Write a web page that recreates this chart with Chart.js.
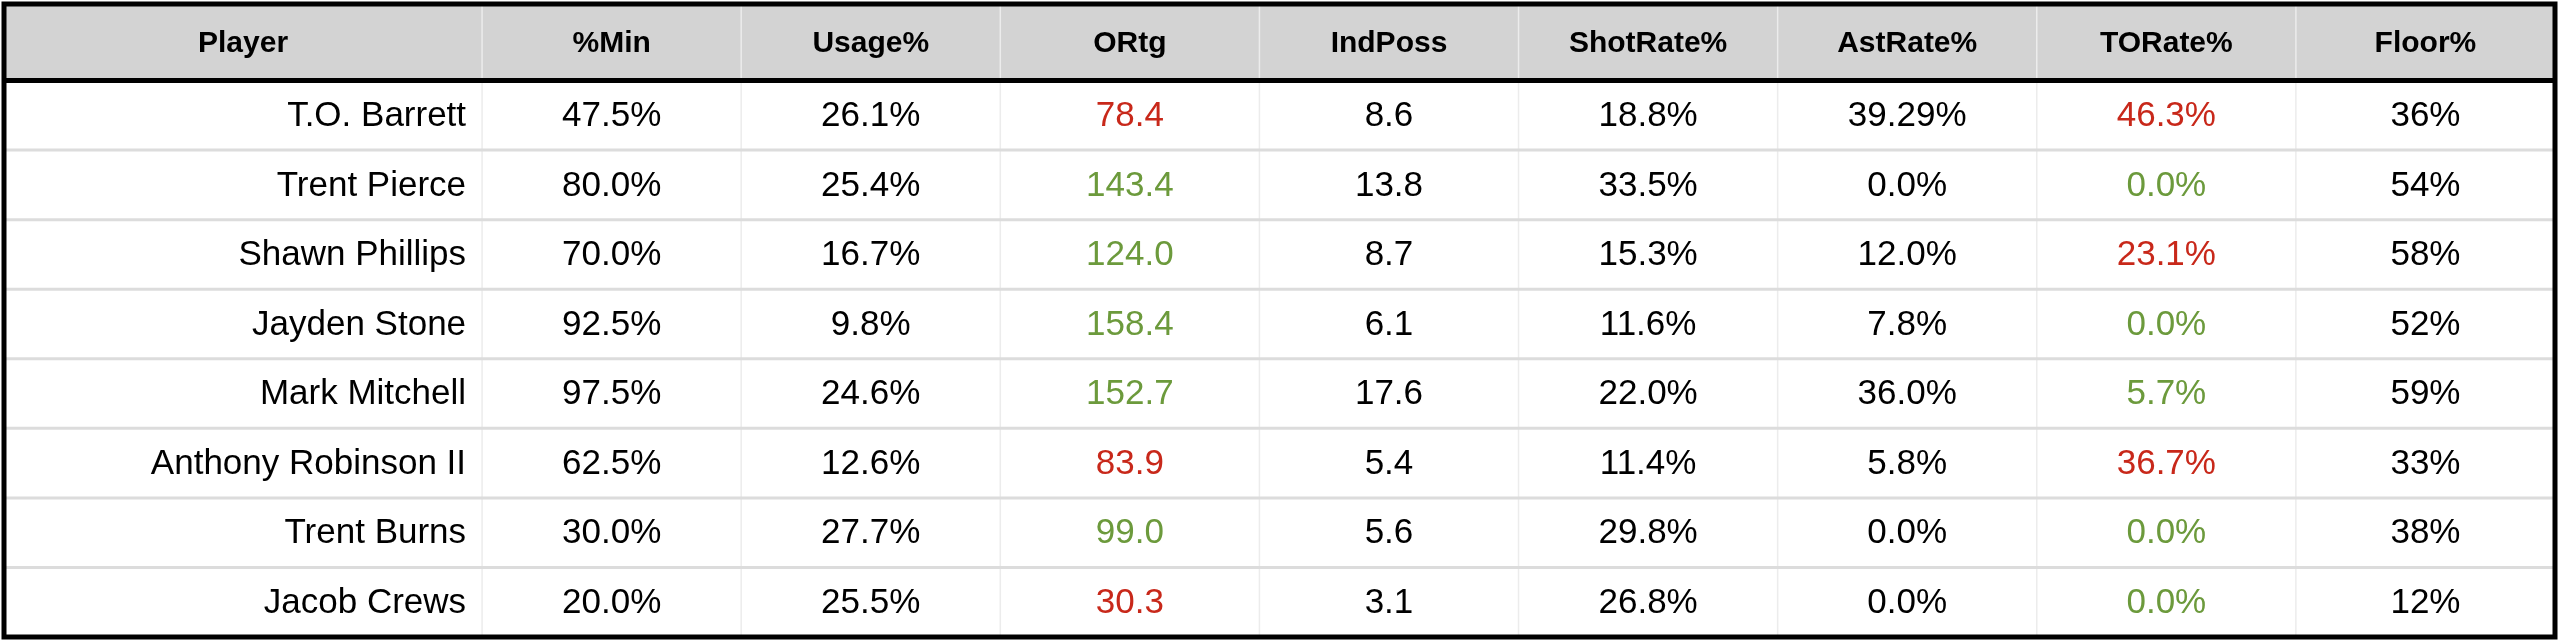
<!DOCTYPE html>
<html>
<head>
<meta charset="utf-8">
<script src="https://cdn.jsdelivr.net/npm/chart.js@4/dist/chart.umd.min.js"></script>
<style>
  html, body { margin: 0; padding: 0; background: #fff; }
  #wrap { width: 2560px; height: 642px; }
</style>
</head>
<body>
<div id="wrap"><canvas id="myChart" width="2560" height="642"></canvas></div>
<script>
var headers = ['Player', '%Min', 'Usage%', 'ORtg', 'IndPoss', 'ShotRate%', 'AstRate%', 'TORate%', 'Floor%'];
var players = ['T.O. Barrett', 'Trent Pierce', 'Shawn Phillips', 'Jayden Stone', 'Mark Mitchell', 'Anthony Robinson II', 'Trent Burns', 'Jacob Crews'];
var minPct = ['47.5%', '80.0%', '70.0%', '92.5%', '97.5%', '62.5%', '30.0%', '20.0%'];
var usage = ['26.1%', '25.4%', '16.7%', '9.8%', '24.6%', '12.6%', '27.7%', '25.5%'];
var ortg = ['78.4', '143.4', '124.0', '158.4', '152.7', '83.9', '99.0', '30.3'];
var indPoss = ['8.6', '13.8', '8.7', '6.1', '17.6', '5.4', '5.6', '3.1'];
var shotRate = ['18.8%', '33.5%', '15.3%', '11.6%', '22.0%', '11.4%', '29.8%', '26.8%'];
var astRate = ['39.29%', '0.0%', '12.0%', '7.8%', '36.0%', '5.8%', '0.0%', '0.0%'];
var toRate = ['46.3%', '0.0%', '23.1%', '0.0%', '5.7%', '36.7%', '0.0%', '0.0%'];
var floor = ['36%', '54%', '58%', '52%', '59%', '33%', '38%', '12%'];
// r = red, g = green, '' = black
var ortgTone = ['r', 'g', 'g', 'g', 'g', 'r', 'g', 'r'];
var toRateTone = ['r', 'g', 'r', 'g', 'g', 'r', 'g', 'g'];

var columns = [players, minPct, usage, ortg, indPoss, shotRate, astRate, toRate, floor];
var tones = [null, null, null, ortgTone, null, null, null, toRateTone, null];
var toneColor = { r: '#c8281a', g: '#6c9a3c', '': '#000' };

var firstColW = 1.845; // player column width in units of a stat column
var colEdges = [0, firstColW];
for (var i = 1; i < headers.length; i++) colEdges.push(firstColW + i);
var xMax = colEdges[colEdges.length - 1];
var nRows = players.length;

var tablePlugin = {
    id: 'table',
    afterDraw: function (chart) {
        var ctx = chart.ctx, xs = chart.scales.x, ys = chart.scales.y;
        var X = function (v) { return xs.getPixelForValue(v); };
        // row 0 = header spanning y 0..1.1, data rows follow with height 1
        var hdrH = 1.1;
        var Y = function (v) { return ys.getPixelForValue(v); };
        var rowTop = function (r) { return r === 0 ? 0 : hdrH + (r - 1); };
        var rowBot = function (r) { return r === 0 ? hdrH : hdrH + r; };
        ctx.save();
        ctx.fillStyle = '#d3d3d3';
        ctx.fillRect(X(0), Y(0), X(xMax) - X(0), Y(hdrH) - Y(0));
        ctx.strokeStyle = '#ececec';
        ctx.lineWidth = 1.5;
        for (var c = 1; c < colEdges.length - 1; c++) {
            ctx.beginPath();
            ctx.moveTo(X(colEdges[c]), Y(0));
            ctx.lineTo(X(colEdges[c]), Y(hdrH + nRows));
            ctx.stroke();
        }
        ctx.strokeStyle = '#dcdcdc';
        ctx.lineWidth = 3;
        for (var r = 2; r <= nRows; r++) {
            ctx.beginPath();
            ctx.moveTo(X(0), Y(rowTop(r)));
            ctx.lineTo(X(xMax), Y(rowTop(r)));
            ctx.stroke();
        }
        ctx.strokeStyle = '#000';
        ctx.lineWidth = 5;
        ctx.beginPath();
        ctx.moveTo(X(0), Y(hdrH));
        ctx.lineTo(X(xMax), Y(hdrH));
        ctx.stroke();
        ctx.textBaseline = 'middle';
        ctx.textAlign = 'center';
        ctx.fillStyle = '#000';
        ctx.font = 'bold 30px "Liberation Sans Narrow", "Liberation Sans", Arial, sans-serif';
        for (var h = 0; h < headers.length; h++) {
            ctx.fillText(headers[h], (X(colEdges[h]) + X(colEdges[h + 1])) / 2, (Y(0) + Y(hdrH)) / 2 + 1);
        }
        ctx.font = '35px "Liberation Sans", Arial, sans-serif';
        for (var k = 0; k < columns.length; k++) {
            for (var j = 0; j < nRows; j++) {
                var cy = (Y(rowTop(j + 1)) + Y(rowBot(j + 1))) / 2 + 1;
                ctx.fillStyle = tones[k] ? toneColor[tones[k][j]] : '#000';
                if (k === 0) {
                    ctx.textAlign = 'right';
                    ctx.fillText(columns[k][j], X(colEdges[1]) - 16, cy);
                } else {
                    ctx.textAlign = 'center';
                    ctx.fillText(columns[k][j], (X(colEdges[k]) + X(colEdges[k + 1])) / 2, cy);
                }
            }
        }
        ctx.strokeStyle = '#000';
        ctx.lineWidth = 5;
        ctx.strokeRect(X(0), Y(0), X(xMax) - X(0), Y(hdrH + nRows) - Y(0));
        ctx.restore();
    }
};

var ctx1 = document.getElementById('myChart').getContext('2d');
var myChart = new Chart(ctx1, {
    type: 'scatter',
    data: { datasets: [{ data: [], pointRadius: 0 }] },
    options: {
        responsive: false,
        animation: false,
        layout: { padding: { left: 4, right: 5, top: 4, bottom: 5 } },
        scales: {
            x: { type: 'linear', min: 0, max: xMax, display: false },
            y: { type: 'linear', min: 0, max: 1.1 + 8, reverse: true, display: false }
        },
        plugins: { legend: { display: false }, tooltip: { enabled: false } }
    },
    plugins: [tablePlugin]
});
</script>
</body>
</html>
